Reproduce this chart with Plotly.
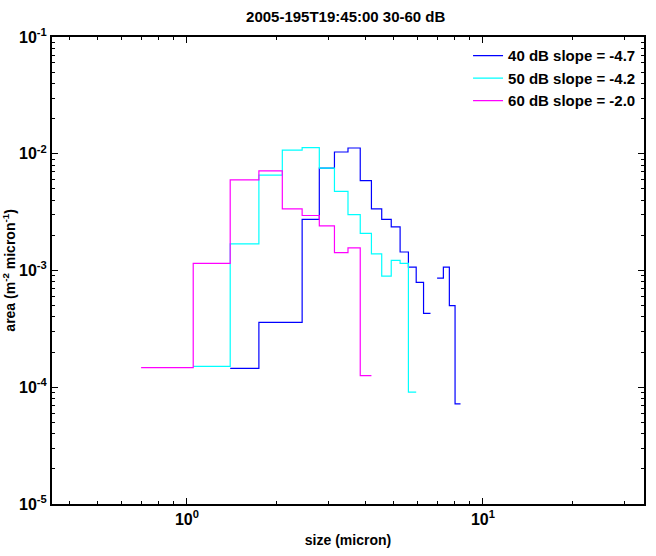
import plotly.graph_objects as go

# ---- data ----
bin_width = 0.35

blue_name = "40 dB slope = -4.7"
blue_left = [1.40, 1.75, 2.10, 2.45, 2.80, 3.15, 3.50, 3.85, 4.20, 4.55,
             4.90, 5.25, 5.60, 5.95, 6.30, 6.65, 7.00, 7.35, 7.70, 8.05]
blue_val = [1.45e-4, 3.59e-4, 3.59e-4, 2.74e-3, 7.53e-3, 1.035e-2, 1.12e-2, 5.88e-3, 3.37e-3, 2.74e-3,
            2.36e-3, 1.44e-3, 1.07e-3, 7.9e-4, 4.3e-4, None, 8.6e-4, 1.07e-3, 5.0e-4, 7.2e-5]

cyan_name = "50 dB slope = -4.2"
cyan_left = [1.05, 1.40, 1.75, 2.10, 2.45, 2.80, 3.15, 3.50, 3.85, 4.20,
             4.55, 4.90, 5.25, 5.60]
cyan_val = [1.51e-4, 1.69e-3, 6.56e-3, 1.076e-2, 1.13e-2, 7.53e-3, 4.77e-3, 3.01e-3, 2.08e-3, 1.39e-3,
            8.94e-4, 1.22e-3, 1.15e-3, 9.1e-5]

mag_name = "60 dB slope = -2.0"
mag_left = [0.70, 1.05, 1.40, 1.75, 2.10, 2.45, 2.80, 3.15, 3.50, 3.85]
mag_val = [1.47e-4, 1.15e-3, 5.98e-3, 7.14e-3, 3.37e-3, 2.96e-3, 2.41e-3, 1.42e-3, 1.56e-3, 1.26e-4]

x_tickvals = [1, 10]
x_ticktext = ["10<sup>0</sup>", "10<sup>1</sup>"]
y_tickvals = [1e-5, 1e-4, 1e-3, 1e-2, 1e-1]
y_ticktext = ["10<sup>-5</sup>", "10<sup>-4</sup>", "10<sup>-3</sup>", "10<sup>-2</sup>", "10<sup>-1</sup>"]

title_text = "2005-195T19:45:00 30-60 dB"
x_title = "size (micron)"
y_title = "area (m<sup>-2</sup> micron<sup>-1</sup>)"


def steps(left, vals, w):
    xs, ys = [], []
    for l, v in zip(left, vals):
        if v is None:
            xs.append(l)
            ys.append(None)
            continue
        xs += [l, l + w]
        ys += [v, v]
    return xs, ys


FONT = "Liberation Sans, Arial, Helvetica, sans-serif"

fig = go.Figure()
for name, left, vals, col in [(blue_name, blue_left, blue_val, "#0000ff"),
                              (cyan_name, cyan_left, cyan_val, "#00ffff"),
                              (mag_name, mag_left, mag_val, "#ff00ff")]:
    xs, ys = steps(left, vals, bin_width)
    fig.add_trace(go.Scatter(x=xs, y=ys, mode="lines", name=name,
                             line=dict(color=col, width=1.2), connectgaps=False))

minor_x = [m * 10 ** e for e in (-1, 0, 1) for m in range(2, 10)]
minor_y = [m * 10 ** e for e in (-5, -4, -3, -2) for m in range(2, 10)]

axis_common = dict(showline=True, linecolor="black", linewidth=2, mirror="ticks",
                   ticks="inside", ticklen=6, tickwidth=1, tickcolor="black",
                   showgrid=False, zeroline=False,
                   tickfont=dict(family=FONT, size=16, color="black", weight="bold"))

fig.update_layout(
    width=656, height=556,
    margin=dict(l=52, r=10, t=37, b=50),
    paper_bgcolor="white", plot_bgcolor="white",
    font=dict(family=FONT, color="black", weight="bold"),
    title=dict(text=title_text, x=0.527, xanchor="center", y=0.969, yanchor="middle",
               font=dict(family=FONT, size=15, color="black", weight="bold")),
    showlegend=True,
    legend=dict(x=0.995, xanchor="right", y=0.995, yanchor="top",
                bgcolor="rgba(0,0,0,0)", borderwidth=0,
                font=dict(family=FONT, size=15, color="black", weight="bold"),
                tracegroupgap=0),
    xaxis=dict(type="log", range=[-0.4559, 1.5441],
               tickvals=x_tickvals, ticktext=x_ticktext,
               minor=dict(tickmode="array", tickvals=minor_x, ticks="inside", ticklen=3, tickcolor="black"),
               title=dict(text=x_title, standoff=8,
                          font=dict(family=FONT, size=14, color="black", weight="bold")),
               **axis_common),
    yaxis=dict(type="log", range=[-5, -1],
               tickvals=y_tickvals, ticktext=y_ticktext,
               minor=dict(tickmode="array", tickvals=minor_y, ticks="inside", ticklen=3, tickcolor="black"),
               **axis_common),
    annotations=[dict(text=y_title, textangle=-90, xref="paper", yref="paper",
                      x=(8 - 52) / 594, y=0.5, xanchor="center", yanchor="middle",
                      showarrow=False,
                      font=dict(family=FONT, size=14, color="black", weight="bold"))],
)

fig.write_html("out.html")
